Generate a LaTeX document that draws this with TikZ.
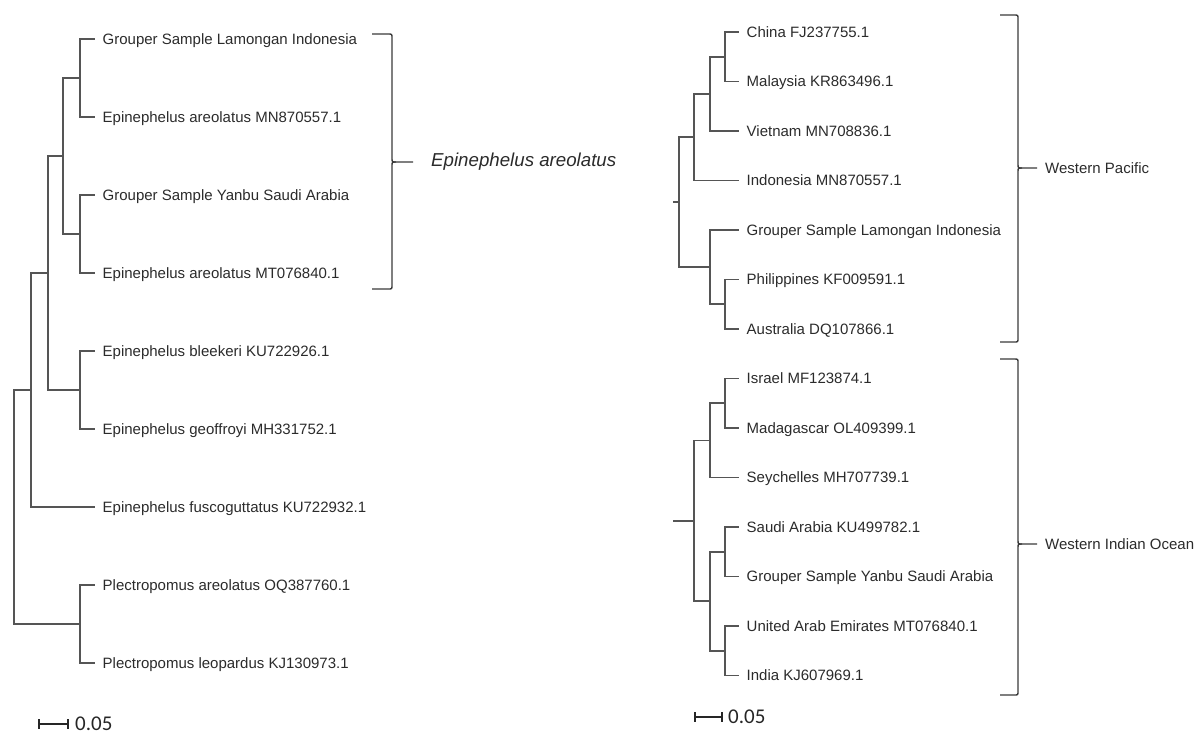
\documentclass[tikz,border=0pt]{standalone}
\usepackage{fontspec}
\usetikzlibrary{calc}
\setmainfont{Liberation Sans}
\newfontfamily\scalefnt{Carlito}
\definecolor{treeline}{HTML}{555555}
\definecolor{labeltext}{HTML}{2B2B2B}
\definecolor{bracecol}{HTML}{3A3A3A}
\tikzset{
  branch/.style={draw=treeline, line width=1.6pt, line join=miter},
  leaf/.style={anchor=west, inner xsep=7.5pt, inner ysep=0pt, text height=10.7pt, text depth=0pt,
    text=labeltext, font=\fontsize{15}{18}\selectfont},
  bracestyle/.style={draw=bracecol, line width=1.4pt},
  cladelabel/.style={anchor=west, inner sep=0pt, text height=10.7pt, text depth=0pt, text=labeltext,
    font=\fontsize{15}{18}\selectfont},
  bigclade/.style={anchor=west, inner sep=0pt, text height=13.4pt, text depth=0pt, text=labeltext,
    font=\fontsize{18.7}{22}\selectfont\itshape},
  scalebar/.style={draw=black!85, line width=1.4pt},
  scaletext/.style={anchor=west, inner sep=0pt, text=black!85, font=\scalefnt\fontsize{21}{24}\selectfont},
}
\newcommand{\drawbrace}[6]{%
  \draw[bracestyle] (#1,#3) -- (#2-4,#3) .. controls (#2,#3) .. (#2,#3+4) -- (#2,#4-4)
    .. controls (#2,#4) .. (#2+4,#4) -- (#6,#4);
  \draw[bracestyle] (#2+4,#4) .. controls (#2,#4) .. (#2,#4+4) -- (#2,#5-4)
    .. controls (#2,#5) .. (#2-4,#5) -- (#1,#5);
}
\begin{document}
\begin{tikzpicture}[x=1pt, y=-1pt]
\useasboundingbox (0,0) rectangle (1203,734);

% ---------------- Left tree ----------------
\node[leaf] (L1) at (95,39)  {Grouper Sample Lamongan Indonesia};
\node[leaf] (L2) at (95,117) {Epinephelus areolatus MN870557.1};
\node[leaf] (L3) at (95,195) {Grouper Sample Yanbu Saudi Arabia};
\node[leaf] (L4) at (95,273) {Epinephelus areolatus MT076840.1};
\node[leaf] (L5) at (95,351) {Epinephelus bleekeri KU722926.1};
\node[leaf] (L6) at (95,429) {Epinephelus geoffroyi MH331752.1};
\node[leaf] (L7) at (95,507) {Epinephelus fuscoguttatus KU722932.1};
\node[leaf] (L8) at (95,585) {Plectropomus areolatus OQ387760.1};
\node[leaf] (L9) at (95,663) {Plectropomus leopardus KJ130973.1};

\coordinate (n12) at (80,78);
\coordinate (n34) at (80,234);
\coordinate (n1234) at (63,156);
\coordinate (n56) at (80,390);
\coordinate (nA) at (48,273);
\coordinate (nB) at (31,390);
\coordinate (n89) at (80,624);
\coordinate (lroot) at (14,507);

\draw[branch] (n12) |- (L1.west) (n12) |- (L2.west);
\draw[branch] (n34) |- (L3.west) (n34) |- (L4.west);
\draw[branch] (n1234) |- (n12) (n1234) |- (n34);
\draw[branch] (n56) |- (L5.west) (n56) |- (L6.west);
\draw[branch] (nA) |- (n1234) (nA) |- (n56);
\draw[branch] (nB) |- (nA) (nB) |- (L7.west);
\draw[branch] (n89) |- (L8.west) (n89) |- (L9.west);
\draw[branch] (lroot) |- (nB) (lroot) |- (n89);

% left brace
\drawbrace{372}{392}{34}{162}{289}{413}
\node[bigclade] (EA) at (431,160) {Epinephelus areolatus};

% left scale bar
\coordinate (ls1) at (39,724);
\coordinate (ls2) at (68,724);
\draw[scalebar] (ls1) -- (ls2) ($(ls1)+(0,-5)$) -- ($(ls1)+(0,5)$) ($(ls2)+(0,-5)$) -- ($(ls2)+(0,5)$);
\node[scaletext] (lst) at (75,724) {0.05};

% ---------------- Right tree ----------------
\node[leaf] (R1)  at (739,32)    {China FJ237755.1};
\node[leaf] (R2)  at (739,81.5)  {Malaysia KR863496.1};
\node[leaf] (R3)  at (739,131)   {Vietnam MN708836.1};
\node[leaf] (R4)  at (739,180.5) {Indonesia MN870557.1};
\node[leaf] (R5)  at (739,230)   {Grouper Sample Lamongan Indonesia};
\node[leaf] (R6)  at (739,279.5) {Philippines KF009591.1};
\node[leaf] (R7)  at (739,329)   {Australia DQ107866.1};
\node[leaf] (R8)  at (739,378.5) {Israel MF123874.1};
\node[leaf] (R9)  at (739,428)   {Madagascar OL409399.1};
\node[leaf] (R10) at (739,477.5) {Seychelles MH707739.1};
\node[leaf] (R11) at (739,527)   {Saudi Arabia KU499782.1};
\node[leaf] (R12) at (739,576.5) {Grouper Sample Yanbu Saudi Arabia};
\node[leaf] (R13) at (739,626)   {United Arab Emirates MT076840.1};
\node[leaf] (R14) at (739,675.5) {India KJ607969.1};

\coordinate (rC) at (725,56.75);
\coordinate (rB) at (710,93.9);
\coordinate (rA) at (694,137.2);
\coordinate (rE) at (725,304.25);
\coordinate (rD) at (710,267.1);
\coordinate (rroot) at (679,202);
\coordinate (rstub) at (673,202);

\draw[branch] (rC) |- (R1.west) (rC) |- (R2.west);
\draw[branch] (rB) |- (rC) (rB) |- (R3.west);
\draw[branch] (rA) |- (rB) (rA) |- (R4.west);
\draw[branch] (rE) |- (R6.west) (rE) |- (R7.west);
\draw[branch] (rD) |- (R5.west) (rD) |- (rE);
\draw[branch] (rroot) |- (rA) (rroot) |- (rD);
\draw[branch] (rstub) -- (rroot);

\coordinate (rG) at (725,403.25);
\coordinate (rF) at (710,440.4);
\coordinate (rI) at (725,551.75);
\coordinate (rJ) at (725,650.75);
\coordinate (rH) at (710,601.25);
\coordinate (rroot2) at (694,520.8);
\coordinate (rstub2) at (673,520.8);

\draw[branch] (rG) |- (R8.west) (rG) |- (R9.west);
\draw[branch] (rF) |- (rG) (rF) |- (R10.west);
\draw[branch] (rI) |- (R11.west) (rI) |- (R12.west);
\draw[branch] (rJ) |- (R13.west) (rJ) |- (R14.west);
\draw[branch] (rH) |- (rI) (rH) |- (rJ);
\draw[branch] (rroot2) |- (rF) (rroot2) |- (rH);
\draw[branch] (rstub2) -- (rroot2);

% right braces
\drawbrace{1000}{1018}{15}{168}{342}{1037}
\node[cladelabel] (WP) at (1045,168) {Western Pacific};
\drawbrace{1000}{1018}{359}{544}{695}{1037}
\node[cladelabel] (WIO) at (1045,544) {Western Indian Ocean};

% right scale bar
\coordinate (rs1) at (695,717);
\coordinate (rs2) at (722,717);
\draw[scalebar] (rs1) -- (rs2) ($(rs1)+(0,-5)$) -- ($(rs1)+(0,5)$) ($(rs2)+(0,-5)$) -- ($(rs2)+(0,5)$);
\node[scaletext] (rst) at (728,717) {0.05};
\end{tikzpicture}
\end{document}
